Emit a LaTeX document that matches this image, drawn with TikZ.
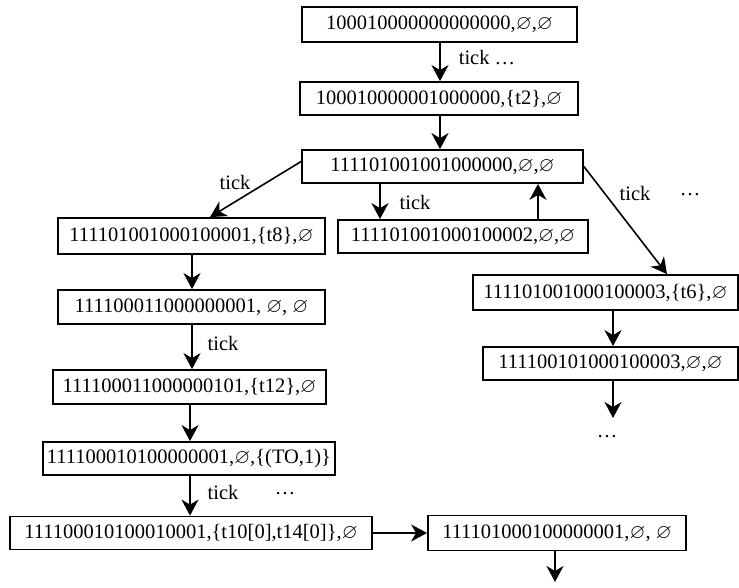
\documentclass[tikz,border=0pt]{standalone}
\usepackage{amssymb}
\usepackage{fontspec}
\setmainfont{Liberation Serif}
\usetikzlibrary{arrows.meta}
\newcommand\es{\ensuremath{\varnothing}}
\begin{document}
\begin{tikzpicture}[x=1pt,y=-1pt,
  box/.style={draw, line width=1.8pt, rectangle, inner sep=0pt, font=\fontsize{20.5}{24}\selectfont},
  arr/.style={line width=1.6pt, -{Stealth[length=16pt,width=17pt,inset=5pt]}},
  lbl/.style={font=\fontsize{20.5}{24}\selectfont, inner sep=0pt}]
\useasboundingbox (0,0) rectangle (739,588);
\node[box, minimum width=275pt, minimum height=35pt] (b1) at (439.5,24.5) {100010000000000000,\es,\es};
\node[box, minimum width=278pt, minimum height=33pt] (b2) at (439,98.5) {100010000001000000,\{t2\},\es};
\node[box, minimum width=281pt, minimum height=33pt] (b3) at (442.5,166.5) {111101001001000000,\es,\es};
\node[box, minimum width=267pt, minimum height=36pt] (b4) at (191.5,236) {111101001000100001,\{t8\},\es};
\node[box, minimum width=250pt, minimum height=33pt] (b5) at (463,236.5) {111101001000100002,\es,\es};
\node[box, minimum width=265pt, minimum height=35pt] (b6) at (605.5,292.5) {111101001000100003,\{t6\},\es};
\node[box, minimum width=255pt, minimum height=33pt] (b7) at (610.5,363.5) {111100101000100003,\es,\es};
\node[box, minimum width=267pt, minimum height=34pt] (b8) at (191.5,307) {111100011000000001, \es, \es};
\node[box, minimum width=273pt, minimum height=34pt] (b9) at (189.5,387) {111100011000000101,\{t12\},\es};
\node[box, minimum width=292pt, minimum height=33pt] (b10) at (189,458.5) {111100010100000001,\es,\{(TO,1)\}};
\node[box, minimum width=362pt, minimum height=33pt] (b11) at (191,533) {111100010100010001,\{t10[0],t14[0]\},\es};
\node[box, minimum width=258pt, minimum height=35pt] (b12) at (557,533) {111101000100000001,\es, \es};
% labels
\node[lbl] (l1) at (487,58) {tick \ldots};
\node[lbl] (l2) at (235,182) {tick};
\node[lbl] (l3) at (415,202) {tick};
\node[lbl] (l4) at (635,193) {tick};
\node[lbl] (l5) at (690,195) {\ldots};
\node[lbl] (l6) at (223,343) {tick};
\node[lbl] (l7) at (223,492) {tick};
\node[lbl] (l8) at (285,494) {\ldots};
\node[lbl] (d1) at (607,437) {\ldots};
\coordinate (e1) at (613,418);
\coordinate (e2) at (555,582);
% connectors
\draw[arr] (b1.south -| 440,0) -- (b2.north -| 440,0);
\draw[arr] (b2.south -| 440,0) -- (b3.north -| 440,0);
\draw[arr] ([yshift=5pt]b3.west) -- ([xshift=18.5pt]b4.north);
\draw[arr] (b3.south -| 380,0) -- (b5.north -| 380,0);
\draw[arr] (b5.north -| 538,0) -- (b3.south -| 538,0);
\draw[arr] (b3.east) -- ([xshift=61.5pt]b6.north);
\draw[arr] (b6.south -| 613,0) -- (b7.north -| 613,0);
\draw[arr] (b7.south -| 613,0) -- (e1);
\draw[arr] (b4.south -| 192,0) -- (b8.north -| 192,0);
\draw[arr] (b8.south -| 192,0) -- (b9.north -| 192,0);
\draw[arr] (b9.south -| 190,0) -- (b10.north -| 190,0);
\draw[arr] (b10.south -| 190,0) -- (b11.north -| 190,0);
\draw[arr] (b11.east) -- (b12.west);
\draw[arr] (b12.south -| 555,0) -- (e2);
\end{tikzpicture}
\end{document}
